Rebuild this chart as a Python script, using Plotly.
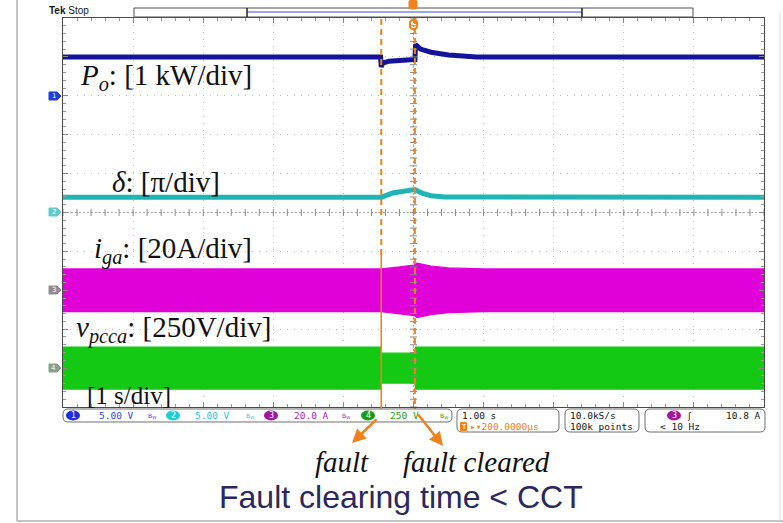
import numpy as np
import plotly.graph_objects as go

# ---------------- data (seconds / physical units) ----------------
t_fault = -0.46
t_clear = 0.02

# CH1: output power Po in kW
t_po = [-5.0, -0.47, -0.46, -0.44, -0.35, -0.2, 0.01, 0.02, 0.03, 0.1, 0.25, 0.5, 0.9, 5.0]
po_kw = [1.0, 1.0, 0.74, 0.84, 0.89, 0.92, 0.93, 0.93, 1.32, 1.2, 1.12, 1.05, 1.0, 1.0]

# CH2: load angle delta in units of pi
t_delta = [-5.0, -0.46, -0.3, -0.15, 0.02, 0.12, 0.25, 0.45, 5.0]
delta_pi = [0.39, 0.39, 0.5, 0.55, 0.59, 0.5, 0.43, 0.4, 0.39]

# CH3: grid current i_ga, envelope amplitude in A
t_iga = [-5.0, -0.46, -0.2, 0.01, 0.05, 0.25, 0.5, 1.0, 5.0]
iga_amp = [11.0, 11.0, 12.0, 13.0, 14.0, 12.5, 11.5, 11.0, 11.0]

# CH4: PCC voltage v_pcca, envelope amplitude in V
t_vpcc = [-5.0, -0.47, -0.46, 0.02, 0.03, 5.0]
vpcc_amp = [135, 135, 96, 96, 135, 135]

# channel settings: (position in div, units per div)
ch_pos = {1: 3.0, 2: 0.0, 3: -2.0, 4: -4.0}
ch_scale = {1: 1.0, 2: 1.0, 3: 20.0, 4: 250.0}

# (text, left x, centre y, font size)
labels = [
    ("<i>P</i><sub><i>o</i></sub>: [1 kW/div]", 78, 77, 29),
    ("<i>δ</i>: [π/div]", 110, 182, 29),
    ("<i>i</i><sub><i>ga</i></sub>: [20A/div]", 92, 250, 29),
    ("<i>v</i><sub><i>pcca</i></sub>: [250V/div]", 74, 329, 29),
    ("[1 s/div]", 85, 395, 25),
]

# ---------------- layout geometry (pixels) ----------------
W, H = 783, 523
L, R, T, B = 63, 764, 18, 407


def px(x):
    return (x - L) / (R - L)


def py(y):
    return (B - y) / (B - T)


def rbox(x0, y0, x1, y1, r=4):
    pts = [
        ("M", x0 + r, y0), ("L", x1 - r, y0), ("Q", x1, y0, x1, y0 + r),
        ("L", x1, y1 - r), ("Q", x1, y1, x1 - r, y1), ("L", x0 + r, y1),
        ("Q", x0, y1, x0, y1 - r), ("L", x0, y0 + r), ("Q", x0, y0, x0 + r, y0),
    ]
    s = ""
    for p in pts:
        if p[0] == "Q":
            s += f"Q{px(p[1]):.5f},{py(p[2]):.5f} {px(p[3]):.5f},{py(p[4]):.5f} "
        else:
            s += f"{p[0]}{px(p[1]):.5f},{py(p[2]):.5f} "
    return s + "Z"


def to_div(ch, vals):
    return [ch_pos[ch] + v / ch_scale[ch] for v in vals]


def note(text, x, y, xanchor="center", size=10, color="#111111", family="DejaVu Sans"):
    return dict(xref="paper", yref="paper", x=px(x), y=py(y), text=text, showarrow=False,
                xanchor=xanchor, yanchor="middle", font=dict(family=family, size=size, color=color))


fig = go.Figure()

# CH3 band
up3 = to_div(3, iga_amp)
lo3 = to_div(3, [-a for a in iga_amp])
fig.add_trace(go.Scatter(x=t_iga + t_iga[::-1], y=up3 + lo3[::-1], fill="toself",
                         fillcolor="#e000d8", line=dict(color="#e000d8", width=1.2),
                         mode="lines", hoverinfo="skip"))
# CH4 band
up4 = to_div(4, vpcc_amp)
lo4 = to_div(4, [-a for a in vpcc_amp])
fig.add_trace(go.Scatter(x=t_vpcc + t_vpcc[::-1], y=up4 + lo4[::-1], fill="toself",
                         fillcolor="#14c814", line=dict(color="#14c814", width=1.2),
                         mode="lines", hoverinfo="skip"))
# CH1, CH2 lines
fig.add_trace(go.Scatter(x=t_po, y=to_div(1, po_kw), mode="lines",
                         line=dict(color="#14149a", width=5), hoverinfo="skip"))
fig.add_trace(go.Scatter(x=t_delta, y=to_div(2, delta_pi), mode="lines",
                         line=dict(color="#1fb5b5", width=5), hoverinfo="skip"))

# centre graticule tick marks
tk = np.round(np.arange(-5, 5.001, 0.2), 3)
fig.add_trace(go.Scatter(x=tk, y=np.zeros_like(tk), mode="markers",
                         marker=dict(symbol="line-ns", size=5, line=dict(color="#8a8a8a", width=1)),
                         hoverinfo="skip"))
fig.add_trace(go.Scatter(x=np.zeros_like(tk), y=tk, mode="markers",
                         marker=dict(symbol="line-ew", size=5, line=dict(color="#8a8a8a", width=1)),
                         hoverinfo="skip"))

axis_common = dict(range=[-5, 5], dtick=1, tick0=0, showgrid=True, gridcolor="#bdbdbd",
                   griddash="1px,6px", gridwidth=1, zeroline=False, showline=True,
                   linecolor="#4a4a4a", linewidth=1, mirror="allticks", ticks="inside",
                   ticklen=5, tickcolor="#8a8a8a", showticklabels=False, fixedrange=True,
                   minor=dict(dtick=0.2, ticks="inside", ticklen=3, tickcolor="#9a9a9a", showgrid=False))

shapes = []
# centre crosshair
shapes.append(dict(type="line", xref="x", yref="y", x0=-5, x1=5, y0=0, y1=0,
                   line=dict(color="#a8a8a8", width=1, dash="2px,2px"), layer="below"))
shapes.append(dict(type="line", xref="x", yref="y", x0=0, x1=0, y0=-5, y1=5,
                   line=dict(color="#a8a8a8", width=1, dash="2px,2px"), layer="below"))

# fault / clearing markers
ORANGE = "#f0821e"
shapes.append(dict(type="line", xref="x", yref="paper", x0=t_fault, x1=t_fault,
                   y0=py(255), y1=py(18), line=dict(color=ORANGE, width=2, dash="6px,4px")))
shapes.append(dict(type="line", xref="x", yref="paper", x0=t_fault, x1=t_fault,
                   y0=py(418), y1=py(255), line=dict(color=ORANGE, width=1.6)))
shapes.append(dict(type="line", xref="x", yref="paper", x0=t_clear, x1=t_clear,
                   y0=py(414), y1=py(10), line=dict(color=ORANGE, width=2, dash="6px,4px")))

# page frame
shapes.append(dict(type="line", xref="paper", yref="paper", x0=px(17), x1=px(17), y0=py(0), y1=py(521),
                   line=dict(color="#c4c4c4", width=2)))
shapes.append(dict(type="line", xref="paper", yref="paper", x0=px(17), x1=px(783), y0=py(521), y1=py(521),
                   line=dict(color="#c4c4c4", width=2)))
shapes.append(dict(type="line", xref="paper", yref="paper", x0=px(780), x1=px(780), y0=py(12), y1=py(521),
                   line=dict(color="#dcdcdc", width=1)))

# record-length bar on top
shapes.append(dict(type="rect", xref="paper", yref="paper", x0=px(134), x1=px(693), y0=py(8), y1=py(17),
                   line=dict(color="#505050", width=1), fillcolor="white"))
shapes.append(dict(type="line", xref="paper", yref="paper", x0=px(247), x1=px(582), y0=py(12), y1=py(12),
                   line=dict(color="#7a86f0", width=1.5)))
for xx in (247, 582):
    shapes.append(dict(type="line", xref="paper", yref="paper", x0=px(xx), x1=px(xx), y0=py(8), y1=py(17),
                       line=dict(color="#202020", width=1.5)))
# trigger position marker
shapes.append(dict(type="path", xref="paper", yref="paper", path=rbox(409, 0, 417, 9, 2),
                   fillcolor=ORANGE, line=dict(color=ORANGE, width=1)))
shapes.append(dict(type="path", xref="paper", yref="paper", path=rbox(410, 20, 417, 29, 3),
                   fillcolor="rgba(0,0,0,0)", line=dict(color=ORANGE, width=2)))

# channel ground tags on the left
tag_info = [(1, 96, "#1a3ee0"), (2, 212, "#62c9c9"), (3, 290, "#948a94"), (4, 368, "#88a088")]
annotations = []
for ch, yy, col in tag_info:
    path = (f"M{px(49):.5f},{py(yy-4):.5f} L{px(57):.5f},{py(yy-4):.5f} L{px(61):.5f},{py(yy):.5f} "
            f"L{px(57):.5f},{py(yy+4):.5f} L{px(49):.5f},{py(yy+4):.5f} Z")
    shapes.append(dict(type="path", xref="paper", yref="paper", path=path, fillcolor=col,
                       line=dict(color=col, width=1)))
    annotations.append(note(str(ch), 53.5, yy, size=7, color="white"))

# status boxes
for box in [(63, 409, 452, 422), (457, 409, 559, 432), (565, 409, 639, 432), (645, 409, 765, 432)]:
    shapes.append(dict(type="path", xref="paper", yref="paper", path=rbox(*box, r=5),
                       fillcolor="white", line=dict(color="#707070", width=1)))

MONO = "DejaVu Sans Mono"
ch_cols = [("1", 73, "#1a2ee8", "5.00 V", 97, "#3048e8", 152),
           ("2", 173, "#22ccd6", "5.00 V", 193, "#2ec4d0", 250),
           ("3", 271, "#a414a4", "20.0 A", 292, "#b01cb0", 346),
           ("4", 368, "#12a012", "250 V", 388, "#18a018", 444)]
for num, cx, ccol, val, vx, vcol, bwx in ch_cols:
    shapes.append(dict(type="circle", xref="paper", yref="paper", x0=px(cx - 7), x1=px(cx + 7),
                       y0=py(410.5), y1=py(420.5), fillcolor=ccol, line=dict(color=ccol, width=0)))
    annotations.append(note(num, cx, 415.5, size=8, color="white"))
    annotations.append(note(val, vx, 415.5, xanchor="left", size=9.5, color=vcol, family=MONO))
    annotations.append(note("B<sub>W</sub>", bwx, 415.5, size=6, color=vcol))

shapes.append(dict(type="circle", xref="paper", yref="paper", x0=px(667), x1=px(681),
                   y0=py(410.5), y1=py(420.5), fillcolor="#a414a4", line=dict(width=0)))
status_text = [
    ("3", 674, 415.5, "center", "white", "DejaVu Sans", 8),
    ("ʃ", 689, 415.5, "center", "#202020", "DejaVu Sans", 9),
    ("10.8 A", 763, 415.5, "right", "#202020", MONO, 9.5),
    ("&lt; 10 Hz", 658, 426.5, "left", "#202020", MONO, 9.5),
    ("1.00 s", 460, 415.5, "left", "#202020", MONO, 9.5),
    ("▸▾200.0000μs", 468, 426.5, "left", ORANGE, MONO, 9.5),
    ("10.0kS/s", 568, 415.5, "left", "#202020", MONO, 9.5),
    ("100k points", 568, 426.5, "left", "#202020", MONO, 9.5),
]
for txt, xx, yy, anc, col, fam, sz in status_text:
    annotations.append(note(txt, xx, yy, xanchor=anc, size=sz, color=col, family=fam))
shapes.append(dict(type="path", xref="paper", yref="paper", path=rbox(460, 422, 467, 431, 1),
                   fillcolor=ORANGE, line=dict(color=ORANGE, width=0)))
annotations.append(note("T", 463.5, 426.5, size=7, color="white"))

# Tek header
annotations.append(note("<b>Tek</b> Stop", 47, 11, xanchor="left", size=10, color="#151515",
                        family="Liberation Sans"))

# channel labels
for txt, xx, yy, sz in labels:
    annotations.append(note(txt, xx, yy, xanchor="left", size=sz, color="#111111",
                            family="Liberation Serif"))

# arrows to the event captions
annotations.append(dict(xref="paper", yref="paper", x=px(352), y=py(443), ax=26, ay=-25, text="",
                        showarrow=True, arrowhead=2, arrowsize=1.1, arrowwidth=2.5, arrowcolor=ORANGE))
annotations.append(dict(xref="paper", yref="paper", x=px(443), y=py(446), ax=-26, ay=-33, text="",
                        showarrow=True, arrowhead=2, arrowsize=1.1, arrowwidth=2.5, arrowcolor=ORANGE))

annotations.append(note("<i>fault</i>", 342, 462, size=29, family="Liberation Serif"))
annotations.append(note("<i>fault cleared</i>", 476, 462, size=29, family="Liberation Serif"))
annotations.append(note("Fault clearing time &lt; CCT", 401, 497, size=32, color="#2b2760",
                        family="Liberation Sans"))

fig.update_layout(
    width=W, height=H,
    margin=dict(l=L, r=W - R, t=T, b=H - B, pad=0),
    paper_bgcolor="white", plot_bgcolor="white",
    showlegend=False,
    xaxis=axis_common, yaxis=axis_common,
    shapes=shapes, annotations=annotations,
)

fig.write_html("out.html", config={"displayModeBar": False})
